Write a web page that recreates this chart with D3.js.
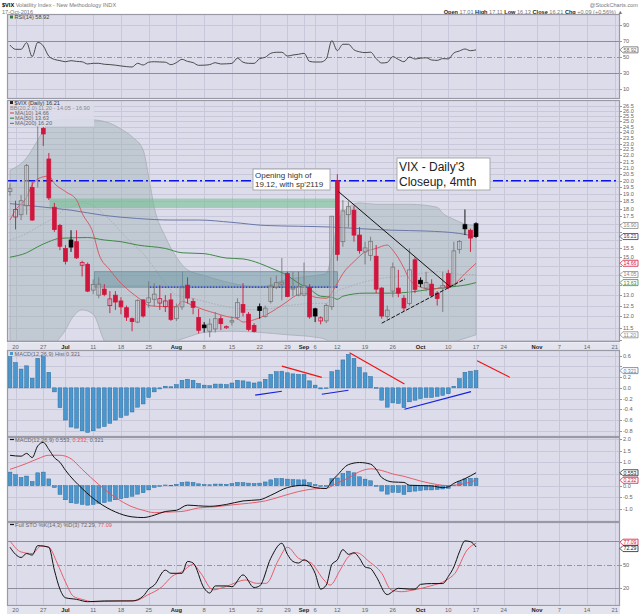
<!DOCTYPE html>
<html>
<head>
<meta charset="utf-8">
<script src="https://cdn.jsdelivr.net/npm/d3@7.9.0/dist/d3.min.js"></script>
<style>
  body { margin: 0; background: #fff; }
  svg { display: block; font-family: "Liberation Sans", Arial, sans-serif; }
</style>
</head>
<body>
<svg id="chart" width="640" height="614"></svg>
<script>
// ---- calendar ----
const firstDay = '2016-06-17', lastDay = '2016-11-25';
const holidays = ['2016-07-04', '2016-09-05'];

const xTicks = [['2016-06-20','20'],['2016-06-27','27'],['2016-07-01','Jul'],['2016-07-11','11'],['2016-07-18','18'],
  ['2016-07-25','25'],['2016-08-01','Aug'],['2016-08-08','8'],['2016-08-15','15'],['2016-08-22','22'],['2016-08-29','29'],
  ['2016-09-01','Sep'],['2016-09-06','6'],['2016-09-12','12'],['2016-09-19','19'],['2016-09-26','26'],['2016-10-03','Oct'],
  ['2016-10-10','10'],['2016-10-17','17'],['2016-10-24','24'],['2016-11-01','Nov'],['2016-11-07','7'],['2016-11-14','14'],
  ['2016-11-21','21']];
const monthLabels = ['Jul', 'Aug', 'Sep', 'Oct', 'Nov'];

// ---- daily candles, Jun 17 .. Oct 17 ----
const prevClose = 19.37;
const opens = [19.2,17.45,17.6,18.2,19.5,24.6,24.35,21.7,18.1,16.9, 15.5,16.0,15.9,14.55,14.6,13.25,13.0,13.3,12.5,13.0,
  12.72,12.4,11.9,11.75,12.77,12.65,12.8,12.62,12.45,12.77, 11.9,12.44,13.5,12.7,11.95,11.62,11.35,11.45,11.9,11.5,
  11.75,11.95,12.55,12.1,11.6,12.45,12.0,12.7,13.4,13.55, 14.1,13.3,13.0,13.0,13.4,12.35,11.8,11.8,12.45,20.0,
  15.9,17.6,17.9,16.3,15.3,15.1,15.05,13.35,12.0,13.2, 13.35,12.85,12.6,14.85,13.75,13.35,13.55,13.1,13.35,14.1,
  13.5,15.45,16.95,16.6,17.01];
const highs = [19.8,18.55,18.95,21.3,19.9,26.72,24.5,22.2,18.4,17.0, 15.7,16.6,16.6,14.8,14.7,13.8,13.9,13.55,13.2,13.2,
  12.9,12.5,11.95,12.8,12.8,13.7,13.6,13.5,13.0,13.1, 12.6,13.5,13.9,12.85,12.35,11.75,11.9,12.2,12.05,11.6,
  12.0,12.85,13.6,12.2,11.7,12.6,12.5,13.9,14.0,14.95, 14.2,14.2,14.2,14.7,13.55,12.4,12.0,12.6,17.5,20.5,
  18.6,18.5,18.2,16.8,15.9,16.2,15.7,13.4,12.5,14.7, 14.3,13.0,15.5,15.0,13.9,14.2,13.8,13.2,14.2,14.3,
  15.9,16.0,17.95,16.7,17.11];
const lows = [18.9,16.65,17.25,17.6,17.2,19.5,22.8,18.6,16.5,15.4, 14.6,15.3,14.9,13.95,13.15,13.05,12.85,12.95,12.15,12.3,
  12.1,11.8,11.35,11.7,11.95,12.4,12.45,12.3,12.2,11.8, 11.8,12.3,12.6,12.1,11.25,11.3,11.1,11.3,11.4,11.45,
  11.6,11.85,12.0,11.35,11.3,11.9,11.95,12.6,13.3,12.75, 12.9,12.95,12.95,12.95,11.9,11.75,11.65,11.7,12.3,14.8,
  15.6,16.8,15.9,15.2,14.6,14.8,13.1,11.9,11.9,12.9, 12.9,12.25,12.5,13.1,13.4,13.2,12.9,12.5,12.2,13.3,
  13.4,15.2,16.3,15.3,16.13];
const closes = [19.41,17.95,18.55,21.17,17.25,25.76,23.85,18.75,16.64,15.63, 14.77,15.58,14.96,14.7,13.2,13.54,13.55,13.04,12.82,12.67,
  12.44,11.97,11.77,12.74,12.02,12.87,13.05,12.83,12.72,11.87, 12.44,13.37,12.86,12.42,11.39,11.5,11.66,11.9,11.68,11.55,
  11.81,12.64,12.19,11.43,11.34,12.27,12.38,13.45,13.63,13.65, 12.94,13.36,13.42,13.48,11.98,12.02,11.94,12.51,17.5,15.16,
  17.85,18.14,16.3,15.37,15.53,15.92,13.3,12.02,12.29,14.45, 13.1,12.39,14.3,13.29,13.57,13.63,12.99,12.84,13.48,13.38,
  15.36,15.91,16.69,16.12,16.21];

// ---- overlays: [trading-day index, value] ----
const ma10 = [[0,17.25],[1,17.9],[3,18.8],[4,19.7],[6,20.3],[7,20.35],[8,19.8],[10,19.2],[12,18.6],[13,17.7],[15,16.4],
  [16,15.2],[18,14.3],[20,13.6],[22,13.1],[24,12.7],[25,12.5],[28,12.45],[30,12.45],[31,12.7],[33,12.5],[35,12.3],
  [37,12.15],[39,12.0],[41,11.9],[42,11.75],[44,11.85],[46,12.05],[48,12.35],[50,12.7],[51,12.9],[53,13.1],[55,12.9],
  [57,12.85],[59,13.6],[60,14.1],[62,14.75],[64,15.3],[66,15.5],[68,15.7],[69,15.4],[71,14.4],[72,13.8],[74,13.4],
  [76,13.3],[78,13.4],[80,13.55],[82,14.1],[84,14.66]];
const ma50 = [[0,15.0],[3,15.25],[5,15.6],[7,15.9],[9,16.1],[14,16.15],[17,16.0],[20,15.9],[23,15.7],[28,15.5],[31,15.25],
  [35,15.2],[39,14.95],[42,14.9],[45,14.65],[47,14.4],[50,14.0],[52,13.6],[54,13.3],[56,12.95],[58,12.9],[59,12.8],
  [60,12.95],[64,13.1],[69,13.1],[72,13.15],[76,13.3],[79,13.4],[82,13.5],[84,13.63]];
const ma200 = [[0,18.35],[5,18.15],[11,17.9],[17,17.55],[23,17.35],[29,17.25],[34,17.25],[40,17.1],[46,16.9],[52,16.85],
  [58,16.8],[63,16.7],[69,16.6],[75,16.55],[81,16.4],[84,16.2]];
const bbIdx   = [0,3,5,7,8,10,11,13,15,17,19,20,22,24,25,26,28,30,32,35,40,45,50,55,57,58,59,61,63,66,72,77,78,80,82,84];
const bbUpper = [20.8,21.8,23.3,24.9,25.1,25.2,25.2,25.2,25.15,25.0,24.6,24.3,23.6,22.45,20.3,18.1,16.2,15.0,14.3,14.0,
  13.6,13.4,13.8,14.0,14.1,15.2,17.0,18.1,18.4,18.3,18.3,18.1,17.7,17.3,17.0,16.9];
const bbMid   = [16.0,16.4,16.8,17.2,17.4,18.0,18.1,18.4,18.2,17.6,16.9,16.5,15.8,15.2,14.8,14.4,13.6,13.0,12.9,12.7,
  12.4,12.3,12.5,12.6,12.6,12.9,13.2,13.4,13.6,13.8,14.0,14.2,14.2,14.1,14.05,14.05];
const bbLower = [10.2,10.3,10.3,10.5,10.8,11.4,11.85,12.3,12.1,10.95,10.5,10.4,10.3,10.4,10.5,10.6,10.8,10.95,11.1,11.3,
  11.35,11.3,11.2,11.1,11.0,10.6,10.3,10.2,10.2,10.2,10.2,10.3,10.7,10.9,11.05,11.2];

// ---- indicators ----
const rsi = [65,59.6,59.6,67.9,50.4,68.3,63.8,51,47,45.5, 44.1,45.4,44.5,44,41.3,42.1,42.1,40.9,40.5,39.8,
  38.8,38,37.5,42.1,40,43.5,44.1,43.8,43.5,40.4, 43,47.1,44.5,43,39.6,39.8,40.5,42.9,41.25,41.5,
  42,48.5,43.5,42.1,42,48,49.6,54.6,55.9,55.9, 51.2,52.5,53.4,54.6,44.5,43.75,43.75,47.5,70.4,58,
  65.9,65.9,59,56.5,55.5,56,48,42.5,43.2,50.5, 47,44.1,50,47.5,48.5,49,46.3,45.8,48,47.6,
  55,57.5,60,57.9,58.92];
const macdHist = [0.58,0.47,0.35,0.41,0.18,0.55,0.58,0.29,-0.075,-0.37, -0.6,-0.73,-0.75,-0.8,-0.83,-0.8,-0.75,-0.72,-0.66,-0.6,
  -0.55,-0.51,-0.45,-0.36,-0.3,-0.18,-0.075,-0.02,0.03,0.02, 0.06,0.14,0.16,0.14,0.08,0.05,0.04,0.07,0.07,0.06,
  0.09,0.14,0.13,0.11,0.09,0.11,0.16,0.25,0.30,0.31, 0.28,0.26,0.25,0.25,0.13,0.05,-0.02,-0.01,0.30,0.33,
  0.52,0.62,0.55,0.38,0.28,0.21,0.004,-0.23,-0.36,-0.28, -0.29,-0.37,-0.26,-0.23,-0.2,-0.18,-0.18,-0.16,-0.14,-0.11,
  0.03,0.17,0.29,0.31,0.321];
const macdLine = [[0,1.30],[2,1.26],[3,1.38],[4,1.2],[5,1.7],[6,1.85],[7,1.55],[8,1.2],[9,1.0],[10,0.66],[13,-0.12],
  [16,-0.72],[19,-1.12],[22,-1.33],[24,-1.36],[26,-1.26],[28,-1.1],[30,-1.05],[32,-0.83],[34,-0.86],[36,-0.88],
  [39,-0.8],[42,-0.65],[45,-0.6],[47,-0.41],[50,-0.08],[53,0.02],[55,-0.08],[57,-0.12],[58,0.2],[59,0.45],[61,0.9],
  [63,0.99],[65,0.92],[66,0.7],[67,0.35],[69,0.16],[71,0.14],[72,0.02],[76,-0.01],[78,-0.08],[79,-0.05],[80,0.1],
  [82,0.3],[84,0.553]];
const macdSignal = [[0,0.7],[3,0.95],[5,1.15],[7,1.3],[9,1.3],[11,1.15],[13,0.7],[16,0.05],[19,-0.5],[22,-0.9],[24,-1.05],
  [26,-1.15],[28,-1.13],[31,-1.1],[34,-0.95],[37,-0.9],[40,-0.82],[43,-0.75],[46,-0.65],[49,-0.45],[52,-0.25],
  [55,-0.13],[57,-0.11],[59,0.12],[61,0.33],[63,0.6],[65,0.72],[67,0.65],[69,0.5],[71,0.4],[74,0.2],[77,0.05],
  [79,0.0],[81,0.05],[84,0.232]];
const stoK = [[0,72],[1,63],[2,59],[3,64],[4,62],[5,74],[7,72],[8,43],[9,19],[10,8],[12,6],[14,3],[17,4],[20,4],[22,4],
  [24,10],[25,19],[26,24],[28,43],[29,39],[31,39],[32,54],[33,52],[35,20],[36,14],[37,23],[39,23],[40,22],[42,37],
  [44,21],[45,23],[47,58],[49,77],[50,63],[51,54],[52,52],[53,56],[55,39],[56,19],[57,24],[58,50],[59,56],[60,69],
  [61,63],[62,65],[63,58],[64,47],[65,45],[66,35],[68,12],[69,16],[70,20],[72,19],[73,19],[74,25],[76,26],[78,26],
  [79,35],[80,47],[81,66],[82,80],[83,79],[84,72.29]];
const stoD = [[0,80],[2,66],[4,64],[5.6,73.5],[7,72],[8.5,52],[10,28],[11.4,10],[13,6],[15,3],[20,4],[22.6,4.3],[24.8,11.5],
  [27.4,22],[29.2,35],[31,41],[33,50],[34.4,39],[36.6,18],[38.8,22],[42.5,30.5],[44.4,26.3],[46.2,26.3],[48.4,56],
  [50,72],[52,58],[54.3,52],[56.6,30.5],[57.7,24],[59.5,43],[61,60],[62.5,65],[64.7,54],[67,39],[68.7,18],[70.6,15.7],
  [72.8,18],[75.8,23],[78.7,30.5],[80.2,39],[82.4,68.5],[84,77.09]];

// ---- right-edge value tags per panel: [value, label, colour] ----
const rsiTags  = [[58.92, '58.92', '#666']];
const mainTags = [[16.90, '16.90', '#888'], [16.21, '16.21', '#2a3a7a'], [14.66, '14.66', '#d0163c'],
  [14.05, '14.05', '#888'], [13.63, '13.63', '#3f8a45'], [11.20, '11.20', '#888']];
const histTags = [[0.321, '0.321', '#5a7a9a']];
const macdTags = [[0.553, '0.553', '#222'], [0.232, '0.232', '#d0163c']];
const stoTags  = [[77.09, '77.09', '#d0163c'], [72.29, '72.29', '#222']];

// ---- drawn annotations ----
const resistanceLevel = 20.0;
const greenZone = { from: 7.1, to: 59, lo: 18.05, hi: 18.7 };
const tealZones = [{ from: 15.2, to: 31.1, lo: 13.4, hi: 14.2 }, { from: 31.1, to: 59, lo: 13.4, hi: 14.2 }];
const dottedLevel = { from: 25.2, to: 59, v: 13.4 };
const trendDown = [[59.2, 19.2], [79.3, 13.43]];
const trendUp = [[67.0, 11.7], [82.0, 13.82]];
const histRed = [[[49.0, 0.405], [56.2, 0.195]], [[61.2, 0.655], [71.1, 0.07]], [[84.2, 0.505], [90.1, 0.195]]];
const histBlue = [[[44.2, -0.136], [49.0, -0.065]], [[56.2, -0.12], [61.0, -0.045]], [[71.1, -0.4], [83.1, -0.07]]];

// ---- setup ----
const svg = d3.select('#chart');
const L = 7, R = 620;
const C = { bg: '#dcdcea', grid: '#c8c8da', border: '#9a9aa6', text: '#555', red: '#d0163c', gray: '#777',
  blue: '#4a97cf', blueDark: '#2b6c9c' };

const days = [];
for (let d = new Date(firstDay + 'T00:00:00Z'); d <= new Date(lastDay + 'T00:00:00Z'); d = new Date(+d + 864e5)) {
  const s = d.toISOString().slice(0, 10), wd = d.getUTCDay();
  if (wd > 0 && wd < 6 && !holidays.includes(s)) days.push(s);
}
const x = d3.scaleLinear().domain([-0.54, 109.95]).range([L, R]);

const panels = {
  rsi:  { top: 14,  bottom: 99,  y: d3.scaleLinear().domain([0, 100]).range([97, 17]) },
  main: { top: 100, bottom: 342, y: d3.scaleLog().domain([10.9, 27.1]).range([342, 100]) },
  hist: { top: 350, bottom: 437, y: d3.scaleLinear().domain([-0.916, 0.705]).range([437, 350]) },
  macd: { top: 437, bottom: 522, y: d3.scaleLinear().domain([-1.55, 2.08]).range([522, 437]) },
  sto:  { top: 522, bottom: 606, y: d3.scaleLinear().domain([0, 100]).range([604.1, 525.1]) }
};

svg.append('rect').attr('width', 640).attr('height', 614).attr('fill', '#fff');
const defs = svg.append('defs');

function setupPanel(name, ticks, fmt, tags, special) {
  const p = panels[name];
  defs.append('clipPath').attr('id', 'clip-' + name)
    .append('rect').attr('x', L).attr('y', p.top).attr('width', R - L).attr('height', p.bottom - p.top);
  svg.append('rect').attr('x', L).attr('y', p.top).attr('width', R - L).attr('height', p.bottom - p.top).attr('fill', C.bg);
  const g = svg.append('g').attr('clip-path', `url(#clip-${name})`);
  xTicks.forEach(([d]) => {
    const xx = Math.round(x(days.indexOf(d))) + 0.5;
    g.append('line').attr('x1', xx).attr('x2', xx).attr('y1', p.top).attr('y2', p.bottom)
      .attr('stroke', C.grid).attr('stroke-width', 1);
  });
  const tagYs = tags.map(t => p.y(t[0]));
  ticks.forEach(t => {
    const yy = Math.round(p.y(t)) + 0.5;
    const s = special && special[t];
    g.append('line').attr('x1', L).attr('x2', R).attr('y1', yy).attr('y2', yy)
      .attr('stroke', s ? s.color : C.grid).attr('stroke-width', s ? s.w : 1)
      .attr('stroke-dasharray', s && s.dash ? s.dash : null);
    svg.append('line').attr('x1', R).attr('x2', R + 2).attr('y1', yy).attr('y2', yy).attr('stroke', '#999');
    // a tag covers the tick label beneath it
    if (tagYs.some(ty => Math.abs(ty - p.y(t)) < 5.2)) return;
    svg.append('text').attr('x', R + 3).attr('y', p.y(t) + 2).attr('font-size', 5.6).attr('fill', '#666').text(fmt(t));
  });
  return g;
}

function frame(name) {
  const p = panels[name];
  svg.append('rect').attr('x', L + 0.5).attr('y', p.top + 0.5).attr('width', R - L - 1).attr('height', p.bottom - p.top - 1)
    .attr('fill', 'none').attr('stroke', C.border).attr('stroke-width', 1.2);
}

function drawTags(name, tags, nudge) {
  tags.forEach(([v, text, color], k) => {
    const yy = panels[name].y(v) + (nudge ? nudge[k] : 0);
    svg.append('path')
      .attr('d', `M${R},${yy} L${R + 3},${yy - 3} H638 V${yy + 3} H${R + 3} Z`)
      .attr('fill', '#fff').attr('stroke', color).attr('stroke-width', 0.8);
    svg.append('text').attr('x', R + 3.5).attr('y', yy + 1.9).attr('font-size', 5.2).attr('fill', color).text(text);
  });
}

function drawLine(g, name, pts, color, w, dash) {
  const p = panels[name];
  g.append('path').attr('d', d3.line().x(d => x(d[0])).y(d => p.y(d[1])).curve(d3.curveMonotoneX)(pts))
    .attr('fill', 'none').attr('stroke', color).attr('stroke-width', w).attr('stroke-dasharray', dash || null);
}

function xLabels(yText) {
  svg.append('rect').attr('x', L).attr('y', yText - 6).attr('width', R - L).attr('height', 8).attr('fill', '#e4e4ee');
  xTicks.forEach(([d, lab]) => {
    const isMonth = monthLabels.includes(lab);
    svg.append('text').attr('x', x(days.indexOf(d))).attr('y', yText).attr('text-anchor', 'middle')
      .attr('font-size', 5.8).attr('font-weight', isMonth ? 'bold' : null)
      .attr('fill', isMonth ? '#222' : '#666').text(lab);
  });
}

function title(xx, yy, parts) {
  const t = svg.append('text').attr('x', xx).attr('y', yy).attr('font-size', 5.6).attr('fill', C.text);
  parts.forEach(([s, c, b]) => t.append('tspan').attr('fill', c || C.text).attr('font-weight', b ? 'bold' : null).text(s));
}

// ---- header ----
title(2, 7, [['$VIX ', '#000', true], ['Volatility Index - New Methodology INDX', '#777']]);
title(2, 13.5, [['17-Oct-2016', '#777']]);
svg.append('text').attr('x', 638).attr('y', 7).attr('text-anchor', 'end').attr('font-size', 5.6).attr('fill', '#777')
  .text('@StockCharts.com');
{
  const t = svg.append('text').attr('x', 623).attr('y', 13.5).attr('text-anchor', 'end').attr('font-size', 5.6).attr('fill', '#777');
  [['Open ', 1], ['17.01 ', 0], ['High ', 1], ['17.11 ', 0], ['Low ', 1], ['16.13 ', 0], ['Close ', 1], ['16.21 ', 0],
   ['Chg ', 1], ['+0.09 (+0.56%) \u25B2', 0]]
    .forEach(([s, b]) => t.append('tspan').attr('font-weight', b ? 'bold' : null).attr('fill', b ? '#222' : '#777').text(s));
}

// ---- RSI ----
{
  const g = setupPanel('rsi', [10, 30, 50, 70, 90], d => d, rsiTags, {
    30: { color: '#8c8c9a', w: 1.2 }, 70: { color: '#8c8c9a', w: 1.2 }, 50: { color: '#8c8c9a', w: 0.9, dash: '5,2,1,2' } });
  drawLine(g, 'rsi', rsi.map((v, i) => [i, v]), '#3a3a3a', 0.9);
  frame('rsi');
  svg.append('rect').attr('x', 10).attr('y', 15.5).attr('width', 3).attr('height', 3).attr('fill', '#3a7a3a');
  title(14.5, 19, [['RSI(14) 58.92', '#444']]);
  drawTags('rsi', rsiTags);
}

// ---- main price panel ----
{
  const y = panels.main.y;
  const g = setupPanel('main', d3.range(11, 26.51, 0.5), d => d.toFixed(1), mainTags);

  const bb = bbIdx.map((i, k) => ({ i, u: bbUpper[k], m: bbMid[k], l: bbLower[k] }));
  g.append('path')
    .attr('d', d3.area().x(d => x(d.i)).y0(d => y(d.l)).y1(d => y(d.u)).curve(d3.curveMonotoneX)(bb))
    .attr('fill', 'rgb(150,170,172)').attr('fill-opacity', 0.38)
    .attr('stroke', '#a8aeb6').attr('stroke-width', 0.8);
  drawLine(g, 'main', bb.map(d => [d.i, d.m]), '#a6a6b0', 0.8, '1.5,1.5');

  g.append('rect').attr('x', x(greenZone.from)).attr('width', x(greenZone.to) - x(greenZone.from))
    .attr('y', y(greenZone.hi)).attr('height', y(greenZone.lo) - y(greenZone.hi))
    .attr('fill', 'rgb(110,190,140)').attr('fill-opacity', 0.55);
  tealZones.forEach(z => {
    g.append('rect').attr('x', x(z.from)).attr('width', x(z.to) - x(z.from))
      .attr('y', y(z.hi)).attr('height', y(z.lo) - y(z.hi))
      .attr('fill', 'rgb(90,140,152)').attr('fill-opacity', 0.45)
      .attr('stroke', '#6c8c9a').attr('stroke-width', 0.8);
  });
  g.append('line').attr('x1', L).attr('x2', R).attr('y1', y(resistanceLevel)).attr('y2', y(resistanceLevel))
    .attr('stroke', '#0a14e6').attr('stroke-width', 1.6).attr('stroke-dasharray', '10,3,2,3');
  g.append('line').attr('x1', x(dottedLevel.from)).attr('x2', x(dottedLevel.to))
    .attr('y1', y(dottedLevel.v)).attr('y2', y(dottedLevel.v))
    .attr('stroke', '#1a2ae0').attr('stroke-width', 1.3).attr('stroke-dasharray', '1.5,1.5');

  drawLine(g, 'main', ma200, '#6a78a8', 1);
  drawLine(g, 'main', ma50, '#3f8a45', 1);
  drawLine(g, 'main', ma10, '#d9505a', 0.9);

  // candles
  const bw = 3.8;
  closes.forEach((c, i) => {
    const o = opens[i], pc = i === 0 ? prevClose : closes[i - 1];
    const hollow = c >= o;
    const col = c < pc ? C.red : (hollow ? C.gray : '#000');
    const cx = x(i);
    g.append('line').attr('x1', cx).attr('x2', cx).attr('y1', y(highs[i])).attr('y2', y(lows[i]))
      .attr('stroke', col).attr('stroke-width', 0.9);
    const top = y(Math.max(o, c)), h = Math.max(1, y(Math.min(o, c)) - top);
    g.append('rect').attr('x', cx - bw / 2).attr('y', top).attr('width', bw).attr('height', h)
      .attr('fill', hollow ? C.bg : col).attr('fill-opacity', hollow ? 0.35 : 1)
      .attr('stroke', col).attr('stroke-width', 0.8);
  });

  g.append('line').attr('x1', x(trendDown[0][0])).attr('y1', y(trendDown[0][1]))
    .attr('x2', x(trendDown[1][0])).attr('y2', y(trendDown[1][1])).attr('stroke', '#111').attr('stroke-width', 1);
  g.append('line').attr('x1', x(trendUp[0][0])).attr('y1', y(trendUp[0][1]))
    .attr('x2', x(trendUp[1][0])).attr('y2', y(trendUp[1][1])).attr('stroke', '#111').attr('stroke-width', 1)
    .attr('stroke-dasharray', '4,1.5');

  // text boxes
  const box1 = g.append('g');
  box1.append('rect').attr('x', 253).attr('y', 169).attr('width', 77).attr('height', 21)
    .attr('fill', '#fff').attr('stroke', '#999').attr('stroke-width', 0.8);
  box1.append('text').attr('x', 255).attr('y', 177.5).attr('font-size', 8).attr('fill', '#333').text('Opening high of');
  box1.append('text').attr('x', 255).attr('y', 187).attr('font-size', 8).attr('fill', '#333').text("19.12, with sp'2119");
  const box2 = g.append('g');
  box2.append('rect').attr('x', 397).attr('y', 158).attr('width', 93).attr('height', 32)
    .attr('fill', '#fff').attr('stroke', '#999').attr('stroke-width', 0.8);
  box2.append('text').attr('x', 399).attr('y', 171).attr('font-size', 12).attr('fill', '#222').text("VIX - Daily'3");
  box2.append('text').attr('x', 399).attr('y', 185.5).attr('font-size', 12).attr('fill', '#222').text('Closeup, 4mth');

  // legend
  svg.append('rect').attr('x', 8).attr('y', 100.5).attr('width', 86).attr('height', 26).attr('fill', C.bg).attr('opacity', 0.9);
  svg.append('rect').attr('x', 10).attr('y', 101).attr('width', 3).attr('height', 3).attr('fill', '#222');
  title(14.5, 104.5, [['$VIX (Daily) 16.21', '#333']]);
  title(10, 109.8, [['BB(20,2.0) 11.20 - 14.05 - 16.90', '#888']]);
  [['MA(10) 14.66', '#d9505a', 115], ['MA(50) 13.63', '#3f8a45', 120.2], ['MA(200) 16.20', '#6a78a8', 125.4]]
    .forEach(([s, c, yy]) => {
      svg.append('line').attr('x1', 10).attr('x2', 14).attr('y1', yy - 2).attr('y2', yy - 2).attr('stroke', c).attr('stroke-width', 1.2);
      title(15, yy, [[s, '#666']]);
    });
  frame('main');
  drawTags('main', mainTags);
}
xLabels(348.5);

// ---- MACD histogram ----
function bars(g, name) {
  const y = panels[name].y;
  macdHist.forEach((v, i) => {
    const y0 = y(0), y1 = y(v);
    g.append('rect').attr('x', x(i) - 1.9).attr('width', 3.8)
      .attr('y', Math.min(y0, y1)).attr('height', Math.max(0.6, Math.abs(y1 - y0)))
      .attr('fill', C.blue).attr('stroke', C.blueDark).attr('stroke-width', 0.5);
  });
}
{
  const y = panels.hist.y;
  const g = setupPanel('hist', [-0.8, -0.6, -0.4, -0.2, 0, 0.2, 0.4, 0.6], d => d.toFixed(1), histTags);
  bars(g, 'hist');
  histRed.forEach(s => g.append('line').attr('x1', x(s[0][0])).attr('y1', y(s[0][1])).attr('x2', x(s[1][0])).attr('y2', y(s[1][1]))
    .attr('stroke', '#f01010').attr('stroke-width', 1.1));
  histBlue.forEach(s => g.append('line').attr('x1', x(s[0][0])).attr('y1', y(s[0][1])).attr('x2', x(s[1][0])).attr('y2', y(s[1][1]))
    .attr('stroke', '#1420e0').attr('stroke-width', 1.1));
  frame('hist');
  svg.append('rect').attr('x', 10).attr('y', 352).attr('width', 3).attr('height', 3).attr('fill', C.blue);
  title(14.5, 355.5, [['MACD(12,26,9) Hist 0.321', '#666']]);
  drawTags('hist', histTags);
}

// ---- MACD lines ----
{
  const g = setupPanel('macd', [-1.0, -0.5, 0, 0.5, 1.0, 1.5, 2.0], d => d.toFixed(1), macdTags);
  bars(g, 'macd');
  drawLine(g, 'macd', macdSignal, '#e8505a', 0.9);
  drawLine(g, 'macd', macdLine, '#111', 1);
  frame('macd');
  svg.append('line').attr('x1', 10).attr('x2', 14).attr('y1', 439.5).attr('y2', 439.5).attr('stroke', '#111').attr('stroke-width', 1.2);
  title(15, 441.5, [['MACD(12,26,9) 0.553, ', '#666'], ['0.232', '#e8505a'], [', 0.321', '#666']]);
  drawTags('macd', macdTags);
}

// ---- Full stochastics ----
{
  const g = setupPanel('sto', [20, 50, 80], d => d, stoTags, {
    20: { color: '#8c8c9a', w: 1.2 }, 80: { color: '#8c8c9a', w: 1.2 }, 50: { color: '#8c8c9a', w: 0.9, dash: '5,2,1,2' } });
  drawLine(g, 'sto', stoD, '#e8505a', 0.9);
  drawLine(g, 'sto', stoK, '#111', 1);
  frame('sto');
  svg.append('line').attr('x1', 10).attr('x2', 14).attr('y1', 524.5).attr('y2', 524.5).attr('stroke', '#111').attr('stroke-width', 1.2);
  title(15, 526.5, [['Full STO %K(14,3) %D(3) 72.29, ', '#666'], ['77.09', '#e8505a']]);
  drawTags('sto', stoTags, [-1, 1.6]);
}
xLabels(612);
</script>
</body>
</html>
